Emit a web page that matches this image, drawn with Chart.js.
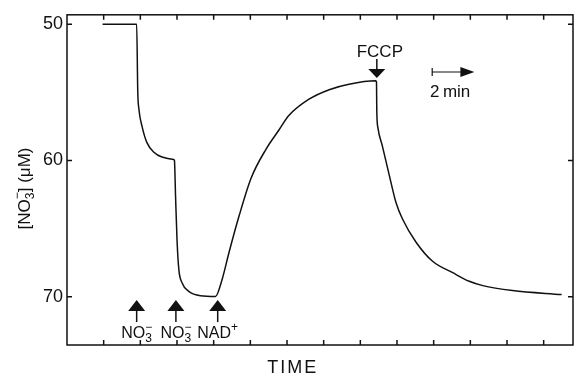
<!DOCTYPE html>
<html>
<head>
<meta charset="utf-8">
<script src="https://cdn.jsdelivr.net/npm/chart.js@4.4.0/dist/chart.umd.min.js"></script>
<style>
  html, body { margin: 0; padding: 0; background: #fff; }
  canvas { display: block; }
</style>
</head>
<body>
<canvas id="trace" width="575" height="378"></canvas>
<script>
// recorder trace: time (1 unit = 1 axis tick) vs [NO3-] in uM
const time = [0.97, 1.90, 1.93, 1.96, 2.05, 2.18, 2.37, 2.59, 2.91,
  2.93, 2.96, 3.00, 3.05, 3.14, 3.32, 3.64, 4.05,
  4.23, 4.42, 4.69, 5.02, 5.43, 5.78, 6.05, 6.60, 7.15, 7.69, 8.42,
  8.44, 8.45, 8.48, 8.60, 8.79, 8.97, 9.15, 9.52, 9.97, 10.52, 10.97, 11.34, 12.15, 13.49];
const nitrate = [50, 50, 54.97, 56.2, 57.53, 58.69, 59.39, 59.74, 59.93,
  60, 62.57, 65.78, 68.0, 68.99, 69.61, 69.93, 69.98,
  68.74, 66.74, 64.1, 61.3, 59.16, 57.76, 56.7, 55.5, 54.8, 54.4, 54.15,
  54.22, 56.5, 57.6, 58.93, 61.09, 63.06, 64.3, 66.0, 67.4, 68.24, 68.87, 69.19, 69.55, 69.85];

const yTicks = [50, 60, 70];
const xTicks = [1, 2, 3, 4, 5, 6, 7, 8, 9, 10, 11, 12, 13];

// additions marked under the trace
const additionTimes = [1.90, 2.97, 4.11];
const additionLabels = [
  [{t: 'NO'}, {sub: '3', sup: '\u2212'}],
  [{t: 'NO'}, {sub: '3', sup: '\u2212'}],
  [{t: 'NAD'}, {sup: '+'}]
];
const fccpTime = 8.45;

const FONT = '"Liberation Sans", Arial, sans-serif';
const INK = '#111';

function richWidth(ctx, segs, size) {
  let w = 0;
  segs.forEach(function(s) {
    if (s.t) {
      ctx.font = size + 'px ' + FONT;
      w += ctx.measureText(s.t).width;
    } else {
      ctx.font = Math.round(size * 0.72) + 'px ' + FONT;
      w += Math.max(ctx.measureText(s.sub || '').width, ctx.measureText(s.sup || '').width);
    }
  });
  return w;
}

function drawRich(ctx, segs, cx, cy, size) {
  let x = cx - richWidth(ctx, segs, size) / 2;
  ctx.textAlign = 'left';
  ctx.textBaseline = 'middle';
  segs.forEach(function(s) {
    if (s.t) {
      ctx.font = size + 'px ' + FONT;
      ctx.fillText(s.t, x, cy);
      x += ctx.measureText(s.t).width;
    } else {
      ctx.font = Math.round(size * 0.72) + 'px ' + FONT;
      if (s.sub) ctx.fillText(s.sub, x, cy + size * 0.32);
      if (s.sup) ctx.fillText(s.sup, x, cy - size * 0.42);
      x += Math.max(ctx.measureText(s.sub || '').width, ctx.measureText(s.sup || '').width);
    }
  });
}

function triangle(ctx, x, tipY, h, half) {
  ctx.beginPath();
  ctx.moveTo(x, tipY);
  ctx.lineTo(x - half, tipY + h);
  ctx.lineTo(x + half, tipY + h);
  ctx.closePath();
  ctx.fill();
}

const decorations = {
  id: 'decorations',
  afterDraw: function(chart) {
    const ctx = chart.ctx;
    const a = chart.chartArea;
    const xs = chart.scales.x;
    const ys = chart.scales.y;
    ctx.save();
    ctx.strokeStyle = INK;
    ctx.fillStyle = INK;

    // frame with inward ticks on all four sides
    ctx.lineWidth = 1.5;
    ctx.strokeRect(a.left, a.top, a.right - a.left, a.bottom - a.top);
    ctx.beginPath();
    xTicks.forEach(function(v) {
      const px = xs.getPixelForValue(v);
      ctx.moveTo(px, a.bottom); ctx.lineTo(px, a.bottom - 5);
      ctx.moveTo(px, a.top); ctx.lineTo(px, a.top + 5);
    });
    yTicks.forEach(function(v) {
      const py = ys.getPixelForValue(v);
      ctx.moveTo(a.left, py); ctx.lineTo(a.left + 5, py);
      ctx.moveTo(a.right, py); ctx.lineTo(a.right - 5, py);
    });
    ctx.stroke();

    // addition arrows (pointing up) with labels
    additionTimes.forEach(function(t, i) {
      const px = xs.getPixelForValue(t);
      const tip = ys.getPixelForValue(70.25);
      triangle(ctx, px, tip, 11, 8.5);
      ctx.lineWidth = 1.5;
      ctx.beginPath();
      ctx.moveTo(px, tip + 10); ctx.lineTo(px, tip + 22);
      ctx.stroke();
      drawRich(ctx, additionLabels[i], px, tip + 34, 16);
    });

    // FCCP arrow (pointing down)
    const fx = xs.getPixelForValue(fccpTime);
    const ftip = ys.getPixelForValue(53.95);
    ctx.beginPath();
    ctx.moveTo(fx, ftip);
    ctx.lineTo(fx - 8.5, ftip - 9);
    ctx.lineTo(fx + 8.5, ftip - 9);
    ctx.closePath();
    ctx.fill();
    ctx.beginPath();
    ctx.moveTo(fx, ftip - 8); ctx.lineTo(fx, ftip - 19);
    ctx.stroke();
    drawRich(ctx, [{t: 'FCCP'}], fx + 3, ftip - 26, 17);

    // 2 min scale bar
    const b0 = xs.getPixelForValue(9.96);
    const b1 = xs.getPixelForValue(11.11);
    const by = ys.getPixelForValue(53.5);
    ctx.lineWidth = 1.2;
    ctx.beginPath();
    ctx.moveTo(b0, by - 4); ctx.lineTo(b0, by + 4);
    ctx.moveTo(b0, by); ctx.lineTo(b1 - 12, by);
    ctx.stroke();
    ctx.beginPath();
    ctx.moveTo(b1, by);
    ctx.lineTo(b1 - 14, by - 5);
    ctx.lineTo(b1 - 14, by + 5);
    ctx.closePath();
    ctx.fill();
    drawRich(ctx, [{t: '2\u2009min'}], xs.getPixelForValue(10.45), ys.getPixelForValue(55.0), 17);

    // axis titles
    ctx.save();
    ctx.letterSpacing = '2px';
    drawRich(ctx, [{t: 'TIME'}], xs.getPixelForValue(6.16), a.bottom + 23, 18);
    ctx.restore();
    ctx.translate(25, (ys.getPixelForValue(50) + ys.getPixelForValue(70)) / 2 + 28);
    ctx.rotate(-Math.PI / 2);
    drawRich(ctx, [{t: '[NO'}, {sub: '3', sup: '\u2212'}, {t: '] (\u03bcM)'}], 0, 0, 17);
    ctx.restore();
  }
};

const points = time.map(function(t, i) { return {x: t, y: nitrate[i]}; });

new Chart(document.getElementById('trace'), {
  type: 'line',
  data: {
    datasets: [{
      data: points,
      borderColor: INK,
      borderWidth: 1.5,
      pointRadius: 0,
      cubicInterpolationMode: 'monotone',
      fill: false
    }]
  },
  options: {
    responsive: false,
    animation: false,
    devicePixelRatio: 1,
    layout: { padding: { top: 10, right: 2, left: 0, bottom: 0 } },
    plugins: { legend: { display: false }, tooltip: { enabled: false } },
    scales: {
      x: {
        type: 'linear',
        min: 0,
        max: 13.8,
        grid: { display: false, drawTicks: false },
        border: { display: false },
        ticks: { display: false },
        afterFit: function(scale) { scale.height = 33; }
      },
      y: {
        reverse: true,
        min: 49.3,
        max: 73.55,
        grid: { display: false, drawTicks: false },
        border: { display: false },
        afterBuildTicks: function(scale) {
          scale.ticks = yTicks.map(function(v) { return {value: v}; });
        },
        ticks: {
          color: INK,
          padding: 4,
          font: { family: FONT, size: 18 }
        },
        afterFit: function(scale) { scale.width = 67; }
      }
    }
  },
  plugins: [decorations]
});
</script>
</body>
</html>
